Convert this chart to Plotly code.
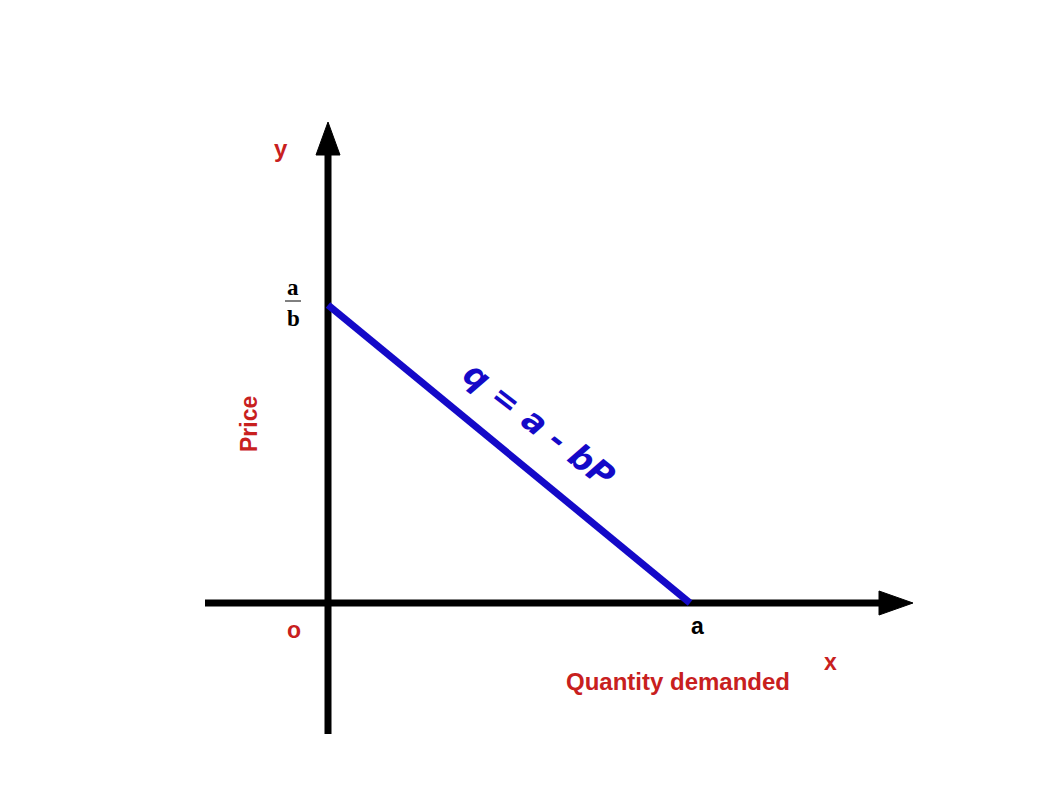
import plotly.graph_objects as go

# ---- data (linear demand curve q = a - bP) ----
a_intercept = [10.0]          # quantity intercept "a"
p_intercept = [8.0]           # price intercept "a/b"
curve_x = [0.0, a_intercept[0]]
curve_y = [p_intercept[0], 0.0]

# ---- layout helpers (pixel geometry of the reference) ----
W, H = 1058, 794
PAGE_OFF = 8                  # default body margin of the html page
OX, OY = 328, 603             # origin in reference pixels
SX, SY = 36.2, 37.25          # pixels per unit
xr = [(PAGE_OFF - OX) / SX, (PAGE_OFF + W - OX) / SX]
yr = [(OY - PAGE_OFF - H) / SY, (OY - PAGE_OFF) / SY]

def px_x(p):
    return (p - OX) / SX

def px_y(p):
    return (OY - p) / SY

RED = "#c8201e"
BLUE = "#1409c8"

fig = go.Figure()

# axes lines
fig.add_trace(go.Scatter(x=[px_x(205), px_x(885)], y=[0, 0], mode="lines",
                         line=dict(color="black", width=7), hoverinfo="skip", showlegend=False))
fig.add_trace(go.Scatter(x=[0, 0], y=[px_y(734), px_y(150)], mode="lines",
                         line=dict(color="black", width=7), hoverinfo="skip", showlegend=False))
# arrowheads
fig.add_trace(go.Scatter(x=[px_x(879), px_x(913), px_x(879), px_x(879)],
                         y=[px_y(591), 0, px_y(615), px_y(591)], mode="lines", fill="toself",
                         fillcolor="black", line=dict(color="black", width=1),
                         hoverinfo="skip", showlegend=False))
fig.add_trace(go.Scatter(x=[px_x(316), 0, px_x(340), px_x(316)],
                         y=[px_y(155), px_y(122), px_y(155), px_y(155)], mode="lines", fill="toself",
                         fillcolor="black", line=dict(color="black", width=1),
                         hoverinfo="skip", showlegend=False))

# demand curve
fig.add_trace(go.Scatter(x=curve_x, y=curve_y, mode="lines",
                         line=dict(color=BLUE, width=7), hoverinfo="skip", showlegend=False))

ann = []
def add_text(txt, x, y, size, color, family="Liberation Sans", bold=True, angle=0, style="normal"):
    ann.append(dict(text=txt, x=x, y=y, xref="x", yref="y", showarrow=False,
                    textangle=angle, xanchor="center", yanchor="middle",
                    font=dict(size=size, color=color, family=family,
                              weight="bold" if bold else "normal", style=style)))

add_text("y", px_x(281), px_y(148), 24, RED)
add_text("Price", px_x(249), px_y(424), 23, RED, angle=-90)
add_text("o", px_x(294), px_y(630), 23, RED)
add_text("x", px_x(830), px_y(662), 23, RED)
add_text("Quantity demanded", px_x(678), px_y(681), 24, RED)
add_text("a", a_intercept[0] + px_x(697) - px_x(690), px_y(626), 23, "black")
add_text("a", px_x(293), px_y(287), 23, "black", family="Liberation Serif")
add_text("b", px_x(293), px_y(318), 23, "black", family="Liberation Serif")
add_text("q = a - bP", px_x(539), px_y(424), 33, BLUE, family="DejaVu Sans", bold=True,
         angle=38, style="italic")

fig.add_shape(type="line", x0=px_x(285), x1=px_x(301), y0=px_y(301), y1=px_y(301),
              line=dict(color="black", width=1))

fig.update_layout(
    width=W, height=H, margin=dict(l=0, r=0, t=0, b=0),
    paper_bgcolor="white", plot_bgcolor="white",
    xaxis=dict(range=xr, visible=False, fixedrange=True),
    yaxis=dict(range=yr, visible=False, fixedrange=True),
    annotations=ann, showlegend=False,
)

fig.write_html("out.html")
